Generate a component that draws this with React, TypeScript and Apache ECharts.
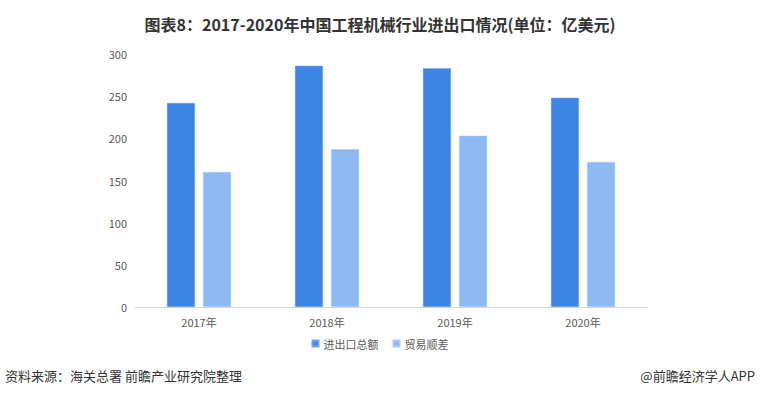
import React, { useEffect, useRef } from "react";
import * as echarts from "echarts";

const categories = ["2017年", "2018年", "2019年", "2020年"];
const totalTrade = [242, 286, 283, 248];
const tradeSurplus = [160, 187, 203, 172];
const seriesNames = ["进出口总额", "贸易顺差"];

export default function App() {
  const ref = useRef<HTMLDivElement>(null);
  useEffect(() => {
    const chart = echarts.init(ref.current!, null, { renderer: "svg" });
    chart.setOption({
      animation: false,
      backgroundColor: "#ffffff",
      title: {
        text: "图表8：2017-2020年中国工程机械行业进出口情况(单位：亿美元)",
        left: "center",
        top: 11,
        textStyle: {
          fontFamily: "Noto Sans CJK SC",
          fontWeight: "bold",
          fontSize: 16,
          color: "#333333",
        },
      },
      legend: {
        data: seriesNames,
        bottom: 44,
        left: "center",
        itemWidth: 6,
        itemHeight: 6,
        itemGap: 14,
        icon: "rect",
        textStyle: { fontSize: 11, color: "#595959", fontFamily: "Noto Sans CJK SC" },
      },
      grid: { left: 135, right: 113, top: 54, bottom: 91 },
      xAxis: {
        type: "category",
        data: categories,
        axisLine: { lineStyle: { color: "#d9d9d9" } },
        axisTick: { show: false },
        axisLabel: { color: "#595959", fontSize: 11, margin: 9, fontFamily: "Noto Sans CJK SC" },
      },
      yAxis: {
        type: "value",
        min: 0,
        max: 300,
        interval: 50,
        splitLine: { show: false },
        axisLine: { show: false },
        axisTick: { show: false },
        axisLabel: { color: "#595959", fontSize: 11, margin: 8, fontFamily: "Noto Sans CJK SC" },
      },
      series: [
        {
          name: seriesNames[0],
          type: "bar",
          data: totalTrade,
          barWidth: 28,
          barGap: "29%",
          itemStyle: { color: "#3f86e4", borderColor: "#6aa2ec", borderWidth: 0.5 },
        },
        {
          name: seriesNames[1],
          type: "bar",
          data: tradeSurplus,
          barWidth: 28,
          itemStyle: { color: "#8db8f2", borderColor: "#a9cbf6", borderWidth: 0.5 },
        },
      ],
      graphic: [
        {
          type: "text",
          left: 5,
          top: 369,
          style: {
            text: "资料来源：海关总署 前瞻产业研究院整理",
            fontSize: 13,
            fill: "#333333",
            fontFamily: "Noto Sans CJK SC",
          },
        },
        {
          type: "text",
          right: 5,
          top: 369,
          style: {
            text: "@前瞻经济学人APP",
            fontSize: 13,
            fill: "#333333",
            fontFamily: "Noto Sans CJK SC",
          },
        },
      ],
    });
    return () => chart.dispose();
  }, []);
  return <div ref={ref} style={{ width: 760, height: 398, position: "fixed", left: 0, top: 0 }} />;
}
